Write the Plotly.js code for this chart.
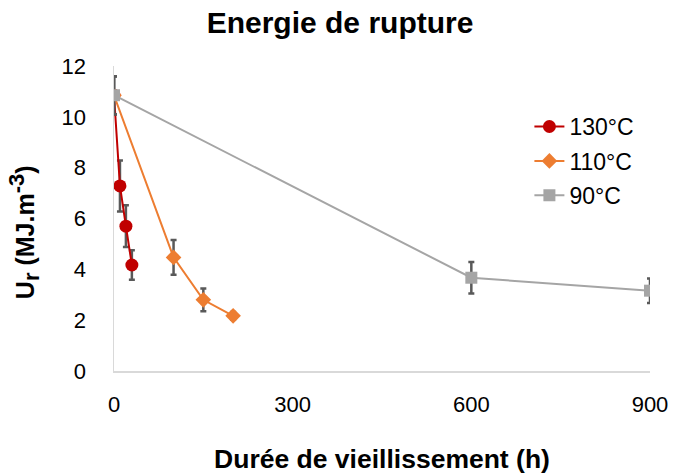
<!DOCTYPE html>
<html>
<head>
<meta charset="utf-8">
<script src="https://cdn.plot.ly/plotly-3.0.1.min.js"></script>
<style>html,body{margin:0;padding:0;background:#fff;}#chart{width:676px;height:474px;}</style>
</head>
<body>
<div id="chart"></div>
<script>
const seriesNames = ["130°C", "110°C", "90°C"];
const x130 = [0, 10, 20, 30];
const y130 = [10.85, 7.28, 5.7, 4.17];
const e130 = [0.75, 1.0, 0.82, 0.58];
const x110 = [0, 100, 150, 200];
const y110 = [10.85, 4.47, 2.8, 2.17];
const e110 = [0.75, 0.68, 0.45, 0.15];
const x90 = [0, 600, 900];
const y90 = [10.85, 3.67, 3.16];
const e90 = [0.75, 0.62, 0.48];
const xTicks = [0, 300, 600, 900];
const yTicks = [0, 2, 4, 6, 8, 10, 12];

const errStyle = (arr) => ({type: 'data', array: arr, visible: true, color: '#595959', thickness: 2.5, width: 3});

const traces = [
  {x: x130, y: y130, name: seriesNames[0], mode: 'lines+markers', type: 'scatter', legendgroup: 'a',
   line: {color: '#C00000', width: 2}, marker: {color: '#C00000', size: 13, symbol: 'circle'}, error_y: errStyle(e130)},
  {x: x110, y: y110, name: seriesNames[1], mode: 'lines+markers', type: 'scatter', legendgroup: 'b',
   line: {color: '#ED7D31', width: 2}, marker: {color: '#ED7D31', size: 12, symbol: 'diamond'}, error_y: errStyle(e110)},
  {x: x90, y: y90, name: seriesNames[2], mode: 'lines+markers', type: 'scatter', legendgroup: 'c',
   line: {color: '#A5A5A5', width: 2}, marker: {color: '#A5A5A5', size: 12, symbol: 'square'}, error_y: errStyle(e90)}
];

const layout = {
  width: 676, height: 474,
  margin: {l: 114, r: 26, t: 66, b: 103},
  paper_bgcolor: '#fff', plot_bgcolor: '#fff',
  font: {family: 'Liberation Sans, Arial, sans-serif', color: '#000', size: 22},
  title: {text: '<b>Energie de rupture</b>', x: 0.503, xanchor: 'center', y: 0.953, yanchor: 'middle', font: {size: 30, color: '#000'}},
  xaxis: {range: [0, 900], tickvals: xTicks, ticktext: xTicks.map(String), showgrid: false, zeroline: false,
          showline: true, linecolor: '#D9D9D9', linewidth: 1.5, ticks: '', ticklabelstandoff: 13,
          tickfont: {size: 22, color: '#000'},
          title: {text: '<b>Durée de vieillissement (h)</b>', font: {size: 26.5, color: '#000'}, standoff: 34}},
  yaxis: {range: [0, 12], tickvals: yTicks, ticktext: yTicks.map(String), showgrid: false, zeroline: false,
          showline: true, linecolor: '#D9D9D9', linewidth: 1.5, ticks: '', ticklabelstandoff: 22,
          tickfont: {size: 22, color: '#000'}},
  annotations: [{text: '<b>U<sub><span style="font-size:22px">r</span></sub> (MJ.m<sup><span style="font-size:22px">-3</span></sup>)</b>',
                 xref: 'paper', yref: 'paper', x: -0.168, y: 0.455,
                 xanchor: 'center', yanchor: 'middle', textangle: -90, showarrow: false, font: {size: 25, color: '#000'}}],
  showlegend: true,
  legend: {x: 0.775, y: 0.872, xanchor: 'left', yanchor: 'top', bgcolor: 'rgba(0,0,0,0)', font: {size: 23, color: '#000'}, tracegroupgap: 1.5, traceorder: 'grouped', itemwidth: 30}
};

Plotly.newPlot('chart', traces, layout, {displayModeBar: false, staticPlot: true});
</script>
</body>
</html>
